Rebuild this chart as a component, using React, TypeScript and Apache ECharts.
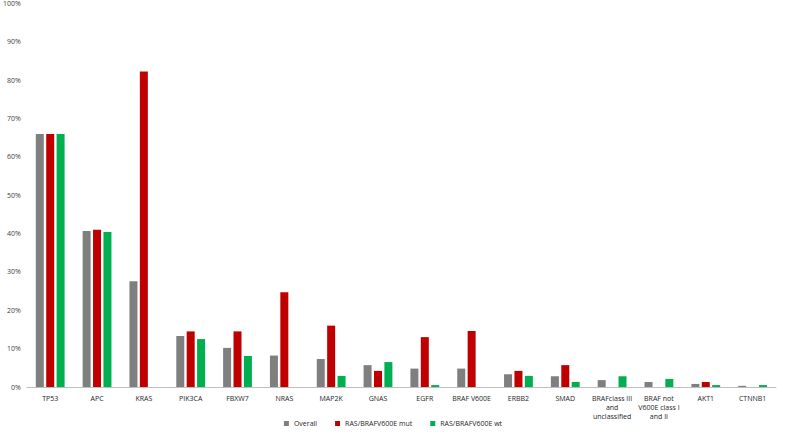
import React, { useEffect, useRef } from "react";
import * as echarts from "echarts";

const categories = [
  "TP53", "APC", "KRAS", "PIK3CA", "FBXW7", "NRAS", "MAP2K", "GNAS", "EGFR",
  "BRAF V600E", "ERBB2", "SMAD", "BRAFclass III\nand\nunclassified",
  "BRAF not\nV600E class I\nand II", "AKT1", "CTNNB1",
];
const overall = [66, 40.7, 27.6, 13.3, 10.2, 8.2, 7.3, 5.7, 4.8, 4.8, 3.3, 2.8, 1.8, 1.3, 0.8, 0.3];
const mut = [66, 41, 82.3, 14.5, 14.5, 24.7, 16, 4.2, 13, 14.6, 4.2, 5.7, 0, 0, 1.3, 0];
const wt = [66, 40.4, 0, 12.5, 8.1, 0, 2.9, 6.5, 0.5, 0, 2.9, 1.3, 2.8, 2.1, 0.5, 0.5];
const seriesNames = ["Overall", "RAS/BRAFV600E mut", "RAS/BRAFV600E wt"];
const colors = ["#7f7f7f", "#c00000", "#00b050"];

export default function App() {
  const ref = useRef<HTMLDivElement>(null);
  useEffect(() => {
    const chart = echarts.init(ref.current!, null, { renderer: "svg" });
    const font = "'Open Sans', 'Liberation Sans', sans-serif";
    chart.setOption({
      animation: false,
      textStyle: { fontFamily: font },
      grid: { left: 24, right: 10, top: 3, bottom: 49 },
      legend: {
        bottom: 4,
        left: "center",
        itemWidth: 5,
        itemHeight: 5,
        itemGap: 18,
        icon: "rect",
        textStyle: { fontSize: 7, color: "#262626", fontFamily: font },
        data: seriesNames,
      },
      xAxis: {
        type: "category",
        data: categories,
        axisLine: { lineStyle: { color: "#bfbfbf", width: 1 } },
        axisTick: { show: false },
        axisLabel: { fontSize: 7, color: "#262626", interval: 0, lineHeight: 9, margin: 7, fontFamily: font },
      },
      yAxis: {
        type: "value",
        min: 0,
        max: 100,
        interval: 10,
        axisLine: { show: false },
        axisTick: { show: false },
        splitLine: { show: false },
        axisLabel: { fontSize: 7, color: "#404040", formatter: "{value}%", margin: 6, fontFamily: font },
      },
      series: [overall, mut, wt].map((d, i) => ({
        name: seriesNames[i],
        type: "bar",
        data: d,
        barWidth: 8,
        barGap: "30%",
        itemStyle: { color: colors[i] },
      })),
    });
    return () => chart.dispose();
  }, []);
  return <div ref={ref} style={{ width: 786, height: 436, position: "absolute", left: 0, top: 0 }} />;
}
